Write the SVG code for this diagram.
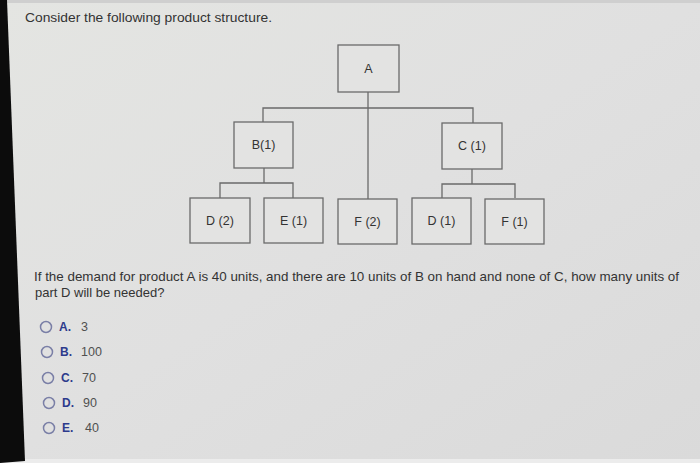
<svg xmlns="http://www.w3.org/2000/svg" width="700" height="463" viewBox="0 0 700 463">
<defs>
<linearGradient id="bg" x1="0" y1="0" x2="1" y2="1">
<stop offset="0" stop-color="#e4e5e2"/>
<stop offset="0.5" stop-color="#e0e0e0"/>
<stop offset="1" stop-color="#dadada"/>
</linearGradient>
<style>
.box{fill:#e3e3e2;stroke:#6a6a6a;stroke-width:1.3}
.lbl{font-family:"Liberation Sans",Arial,sans-serif;font-size:12.5px;fill:#333;text-anchor:middle}
.con{fill:none;stroke:#6a6a6a;stroke-width:1.3}
.txt{font-family:"Liberation Sans",Arial,sans-serif;font-size:13px;fill:#333}
.opt{fill:none;stroke:#7a7fa6;stroke-width:1.5}
.key{font-family:"Liberation Sans",Arial,sans-serif;font-size:12px;font-weight:bold;fill:#2d3a8c}
.val{font-family:"Liberation Sans",Arial,sans-serif;font-size:12.5px;fill:#505050}
</style>
</defs>
<rect x="0" y="0" width="700" height="463" fill="url(#bg)"/>
<rect x="0" y="0" width="700" height="3" fill="#cfcfcf"/>
<rect x="0" y="459" width="700" height="4" fill="#ececec"/>
<polygon points="0,0 7,0 25,461 0,463" fill="#0c0c0c"/>

<text class="txt" x="25" y="22" font-size="13.5" textLength="247" lengthAdjust="spacingAndGlyphs">Consider the following product structure.</text>

<g id="connectors">
<line class="con" x1="368" y1="92" x2="368" y2="199"/>
<polyline class="con" points="263,122 263,108 473,108 473,123"/>
<polyline class="con" points="264,168 264,183"/>
<polyline class="con" points="220,198 220,183 293,183 293,198"/>
<polyline class="con" points="472,169 472,184"/>
<polyline class="con" points="442,198 442,184 515,184 515,198"/>
</g>

<g id="A"><rect class="box" x="338" y="45" width="61" height="47"/><text class="lbl" x="368.5" y="73">A</text></g>
<g id="B"><rect class="box" x="234" y="122" width="59" height="46"/><text class="lbl" x="263.5" y="149">B(1)</text></g>
<g id="C"><rect class="box" x="442" y="123" width="60" height="46"/><text class="lbl" x="472" y="150">C (1)</text></g>
<g id="D2"><rect class="box" x="190" y="198" width="60" height="45"/><text class="lbl" x="220" y="225">D (2)</text></g>
<g id="E1"><rect class="box" x="264" y="198" width="59" height="45"/><text class="lbl" x="293.5" y="225">E (1)</text></g>
<g id="F2"><rect class="box" x="338" y="199" width="59" height="45"/><text class="lbl" x="367.5" y="226">F (2)</text></g>
<g id="D1"><rect class="box" x="412" y="198" width="59" height="46"/><text class="lbl" x="441.5" y="225">D (1)</text></g>
<g id="F1"><rect class="box" x="485" y="199" width="59" height="45"/><text class="lbl" x="514.5" y="226">F (1)</text></g>

<text class="txt" x="34" y="281" textLength="645" lengthAdjust="spacingAndGlyphs">If the demand for product A is 40 units, and there are 10 units of B on hand and none of C, how many units of</text>
<text class="txt" x="35" y="297">part D will be needed?</text>

<g id="optA"><circle class="opt" cx="46" cy="327" r="5.5"/><text class="key" x="59" y="331">A.</text><text class="val" x="81" y="331">3</text></g>
<g id="optB"><circle class="opt" cx="47" cy="352" r="5.5"/><text class="key" x="60" y="356">B.</text><text class="val" x="81" y="356">100</text></g>
<g id="optC"><circle class="opt" cx="48" cy="378" r="5.5"/><text class="key" x="61" y="382">C.</text><text class="val" x="82" y="382">70</text></g>
<g id="optD"><circle class="opt" cx="49" cy="403" r="5.5"/><text class="key" x="62" y="407">D.</text><text class="val" x="83" y="407">90</text></g>
<g id="optE"><circle class="opt" cx="49" cy="428" r="5.5"/><text class="key" x="62" y="432">E.</text><text class="val" x="85" y="432">40</text></g>
</svg>
